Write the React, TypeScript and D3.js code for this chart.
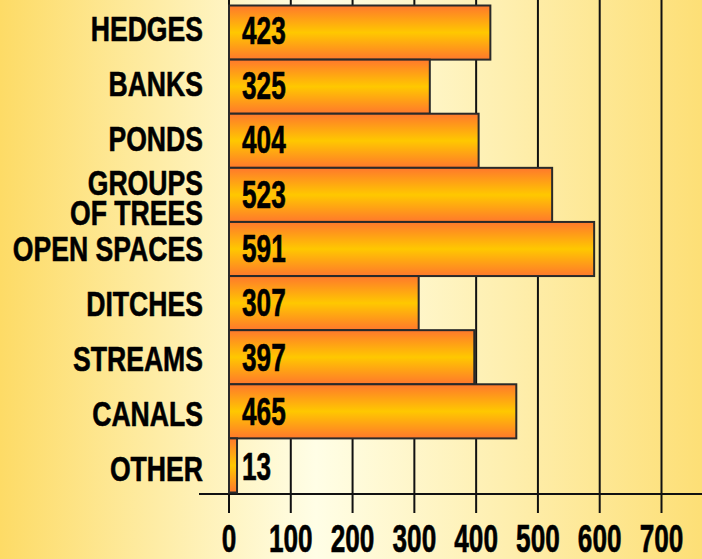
import React from 'react';
import * as d3 from 'd3';

const categories = ['HEDGES', 'BANKS', 'PONDS', 'GROUPS\nOF TREES', 'OPEN SPACES', 'DITCHES', 'STREAMS', 'CANALS', 'OTHER'];
const values = [423, 325, 404, 523, 591, 307, 397, 465, 13];
const ticks = [0, 100, 200, 300, 400, 500, 600, 700];

const W = 702;
const H = 559;
const FONT = '"Liberation Sans", Arial, sans-serif';

const App = () => {
  const x = d3.scaleLinear().domain([0, 700]).range([229, 661.5]);
  const y = d3.scaleBand().domain(categories).range([5.5, 492.5]).padding(0);
  // label centres run a little wider than the bars in the original
  const yLabel = d3.scalePoint().domain(categories).range([28.5, 468]);
  const yValue = d3.scalePoint().domain(categories).range([30.5, 466]);
  const axisY = 494;

  return (
    <svg width={W} height={H} style={{ display: 'block', position: 'absolute', left: 0, top: 0 }}>
      <defs>
        <linearGradient id="bg" x1="0" x2="1" y1="0" y2="0">
          <stop offset="0" stopColor="#fddb66" />
          <stop offset="0.45" stopColor="#fffee6" />
          <stop offset="1" stopColor="#fddf76" />
        </linearGradient>
        <linearGradient id="bar" x1="0" x2="0" y1="0" y2="1">
          <stop offset="0" stopColor="#ff782c" />
          <stop offset="0.5" stopColor="#ffc800" />
          <stop offset="1" stopColor="#ff782c" />
        </linearGradient>
      </defs>
      <rect x={0} y={0} width={W} height={H} fill="url(#bg)" />

      {ticks.map((t) => (
        <line key={'g' + t} x1={x(t)} x2={x(t)} y1={0} y2={513} stroke="#111" strokeWidth={2} />
      ))}
      <line x1={199} x2={W} y1={axisY} y2={axisY} stroke="#111" strokeWidth={2} />

      {categories.map((c, i) => (
        <rect
          key={'b' + c}
          x={x(0)}
          y={y(c)!}
          width={x(values[i]) - x(0)}
          height={y.bandwidth()}
          fill="url(#bar)"
          stroke="#2a2a2a"
          strokeWidth={2}
        />
      ))}

      {categories.map((c, i) => {
        const lines = c.split('\n');
        const cy = yLabel(c)! + (lines.length > 1 ? 4 : 0);
        return (
          <g key={'l' + c}>
            {lines.map((ln, j) => (
              <text
                key={j}
                transform={`translate(203,${cy + 12.5 + (j - (lines.length - 1) / 2) * 30}) scale(0.76,1)`}
                textAnchor="end"
                fontFamily={FONT}
                fontWeight="bold"
                fontSize={35}
                stroke="#000"
                strokeWidth={0.6}
                fill="#000"
              >
                {ln}
              </text>
            ))}
            <text
              transform={`translate(242,${yValue(c)! + 13.8}) scale(0.69,1)`}
              fontFamily={FONT}
              fontWeight="bold"
              fontSize={38}
              stroke="#000"
              strokeWidth={0.6}
              fill="#000"
            >
              {values[i]}
            </text>
          </g>
        );
      })}

      {ticks.map((t) => (
        <text
          key={'t' + t}
          transform={`translate(${x(t)},551.5) scale(0.69,1)`}
          textAnchor="middle"
          fontFamily={FONT}
          fontWeight="bold"
          fontSize={38}
          stroke="#000"
          strokeWidth={0.6}
          fill="#000"
        >
          {t}
        </text>
      ))}
    </svg>
  );
};

export default App;
